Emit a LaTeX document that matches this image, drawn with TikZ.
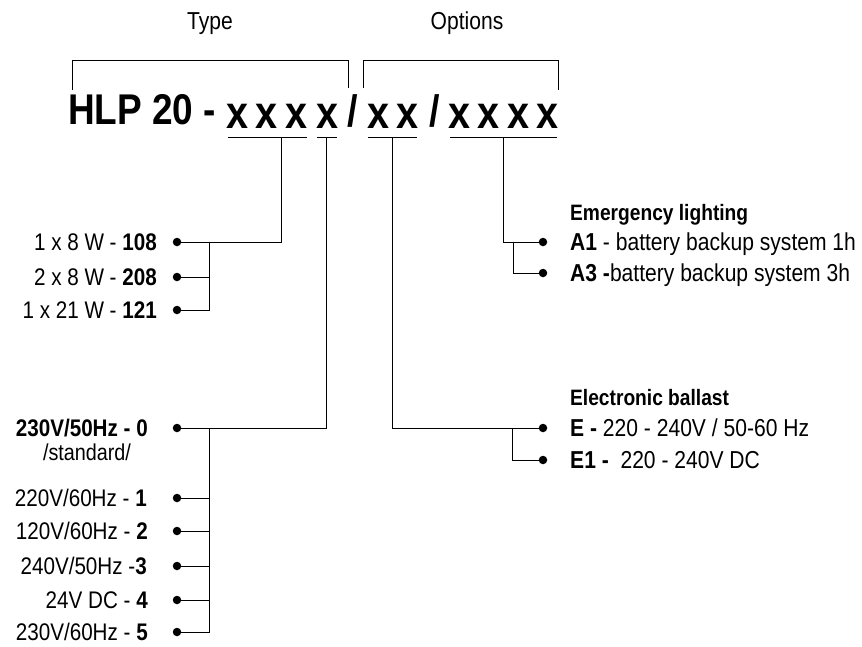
\documentclass[tikz,border=0pt]{standalone}
\usepackage{fontspec}
\setmainfont{Liberation Sans}[FakeStretch=0.86]
\begin{document}
\begin{tikzpicture}[x=1pt,y=-1pt,
  lbl/.style={font=\fontsize{24}{28}\selectfont, inner sep=0},
  rlbl/.style={font=\fontsize{24.5}{28}\selectfont, inner sep=0, anchor=base west},
  rhead/.style={font=\fontsize{22.3}{26}\selectfont\bfseries, inner sep=0, anchor=base west},
  head/.style={font=\fontsize{24.5}{28}\selectfont, inner sep=0, anchor=base},
  big/.style={font=\fontsize{43}{50}\selectfont\bfseries, inner sep=0, anchor=base},
  bigx/.style={font=\fontsize{46}{50}\selectfont\bfseries, inner sep=0, anchor=base},
  dot/.style={circle, fill=black, inner sep=0, minimum size=8.5pt},
  wire/.style={line width=1pt}]
\useasboundingbox (0,0) rectangle (862,646);
% headings
\node[head] (type) at (210,29) {Type};
\node[head] (opts) at (467,29) {Options};
% brackets
\draw[wire] (72,90) |- (348,60) -- (348,88);
\draw[wire] (363,88) |- (558,60) -- (558,90);
% code
\node[big, anchor=base west] (hlp) at (68,124) {HLP 20 -};
\node[bigx] (x1) at (237,128) {x};
\node[bigx] (x2) at (266,128) {x};
\node[bigx] (x3) at (296,128) {x};
\node[bigx] (x4) at (327,128) {x};
\node[big, font=\fontsize{44}{50}\selectfont\bfseries] (s1) at (353,126) {/};
\node[bigx] (x5) at (378,128) {x};
\node[bigx] (x6) at (407,128) {x};
\node[big, font=\fontsize{44}{50}\selectfont\bfseries] (s2) at (435,126) {/};
\node[bigx] (x7) at (459,128) {x};
\node[bigx] (x8) at (488,128) {x};
\node[bigx] (x9) at (518,128) {x};
\node[bigx] (x10) at (547,128) {x};
% underlines
\draw[wire] (228,137) -- (307,137);
\draw[wire] (317,137) -- (337,137);
\draw[wire] (368,137) -- (417,137);
\draw[wire] (450,137) -- (557,137);
\coordinate (u1) at (281,137);
\coordinate (u2) at (326,137);
\coordinate (u3) at (392,137);
\coordinate (u4) at (503,137);
% wattage list
\node[dot] (d108) at (177,242) {};
\node[dot] (d208) at (177,277) {};
\node[dot] (d121) at (177,310) {};
\node[lbl, anchor=base east] (t108) at (157,250.5) {1 x 8 W - \textbf{108}};
\node[lbl, anchor=base east] (t208) at (157,285.5) {2 x 8 W - \textbf{208}};
\node[lbl, anchor=base east] (t121) at (157,318.5) {1 x 21 W - \textbf{121}};
\coordinate (b1) at (209,242);
\draw[wire] (u1) |- (d108.center);
\draw[wire] (b1) |- (d208.center);
\draw[wire] (b1) |- (d121.center);
% voltage list
\node[dot] (v0) at (177,428) {};
\node[dot] (v1) at (177,498) {};
\node[dot] (v2) at (177,531) {};
\node[dot] (v3) at (177,566) {};
\node[dot] (v4) at (177,600) {};
\node[dot] (v5) at (177,632) {};
\node[lbl, anchor=base east] (tv0) at (148,436.5) {\textbf{230V/50Hz - 0}};
\node[lbl, anchor=base, font=\fontsize{23}{26}\selectfont] (tstd) at (87,460) {/standard/};
\node[lbl, anchor=base east] (tv1) at (147,506.5) {220V/60Hz - \textbf{1}};
\node[lbl, anchor=base east] (tv2) at (148,539.5) {120V/60Hz - \textbf{2}};
\node[lbl, anchor=base east] (tv3) at (147,574.5) {240V/50Hz -\textbf{3}};
\node[lbl, anchor=base east] (tv4) at (148,608.5) {24V DC - \textbf{4}};
\node[lbl, anchor=base east] (tv5) at (148,640.5) {230V/60Hz - \textbf{5}};
\coordinate (b2) at (209,428);
\draw[wire] (u2) |- (v0.center);
\foreach \n in {v1,v2,v3,v4,v5} \draw[wire] (b2) |- (\n.center);
% emergency lighting
\node[rhead] (hem) at (570,220) {Emergency lighting};
\node[dot] (a1) at (543,242) {};
\node[dot] (a3) at (543,273) {};
\node[rlbl] (ta1) at (570,250.5) {\textbf{A1} - battery backup system 1h};
\node[rlbl] (ta3) at (570,281.5) {\textbf{A3 -}battery backup system 3h};
\coordinate (b4) at (513,242);
\draw[wire] (u4) |- (a1.center);
\draw[wire] (b4) |- (a3.center);
% electronic ballast
\node[rhead] (hel) at (570,405) {Electronic ballast};
\node[dot] (e0) at (543,428) {};
\node[dot] (e1) at (543,460) {};
\node[rlbl] (te0) at (570,436.5) {\textbf{E -} 220 - 240V / 50-60 Hz};
\node[rlbl] (te1) at (570,468.5) {\textbf{E1 -}\ \ 220 - 240V DC};
\coordinate (b3) at (512,428);
\draw[wire] (u3) |- (e0.center);
\draw[wire] (b3) |- (e1.center);
\end{tikzpicture}
\end{document}
